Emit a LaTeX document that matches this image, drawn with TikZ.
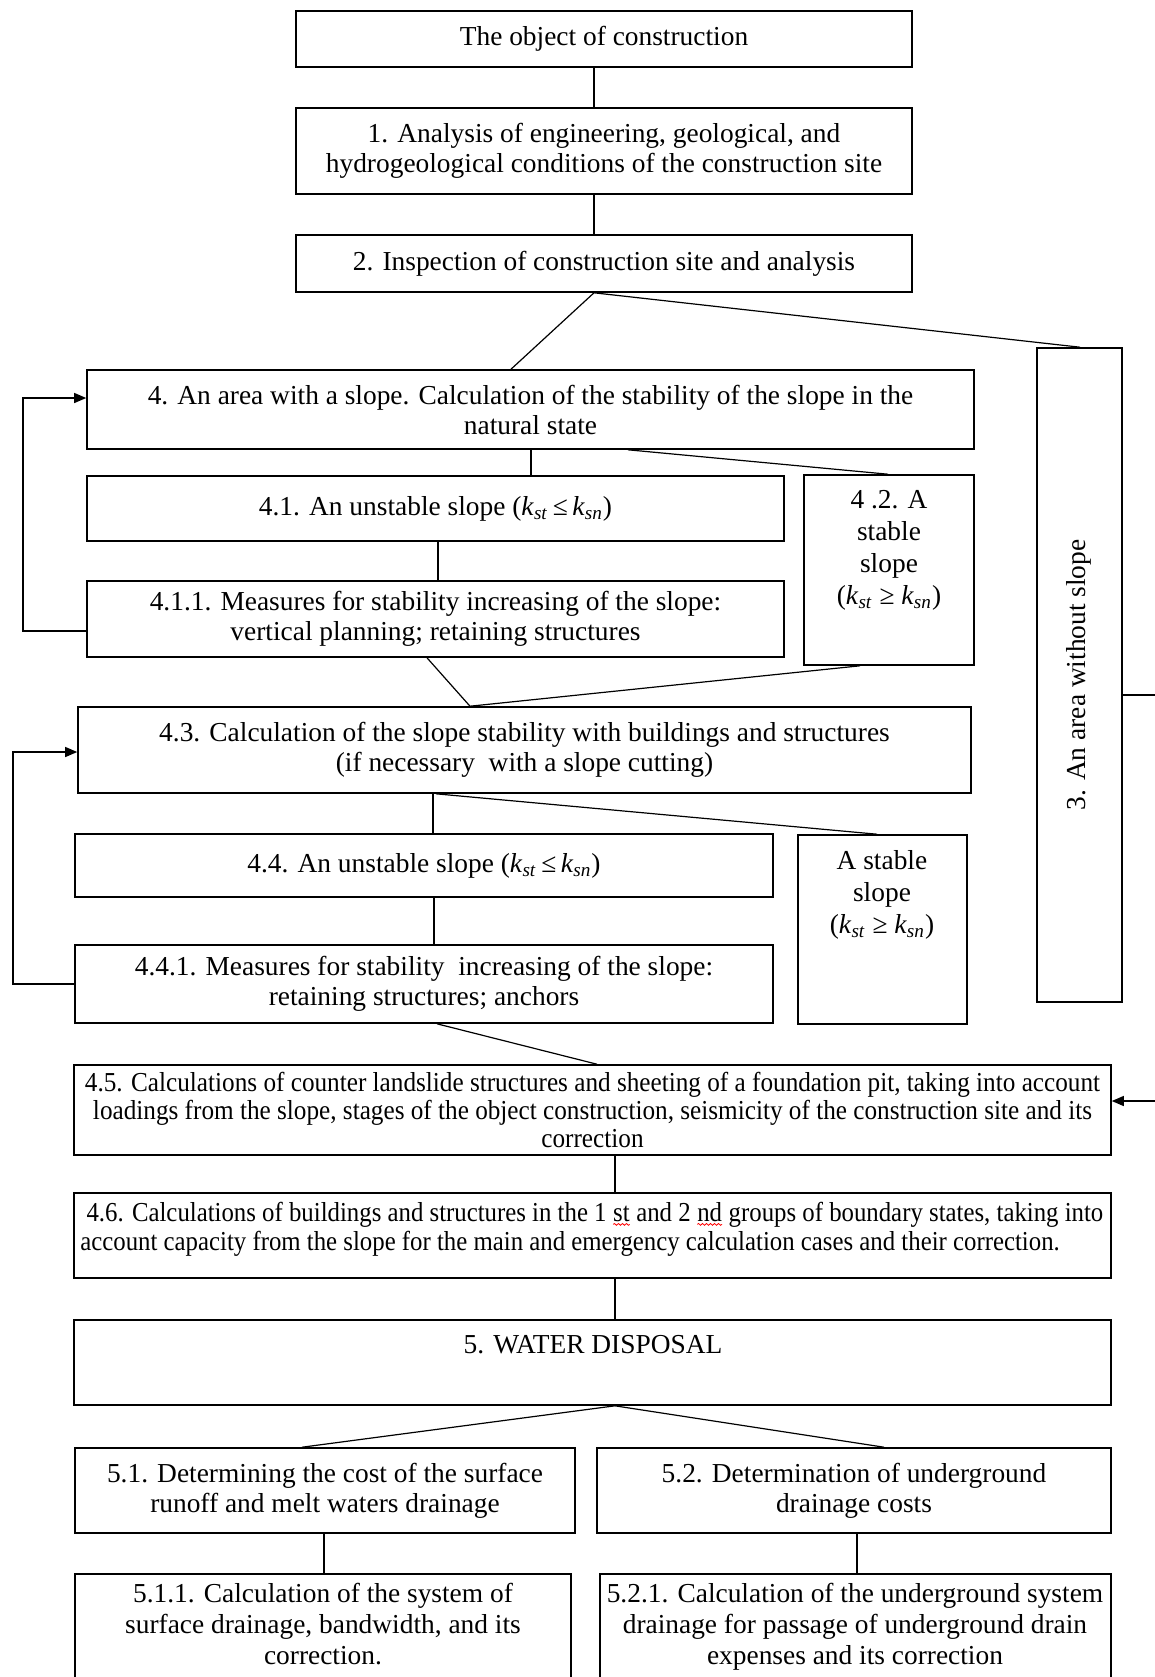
\documentclass[tikz,border=0pt]{standalone}
\usepackage{fontspec}
\setmainfont{Liberation Serif}
\newfontfamily\condfont{Liberation Serif}[FakeStretch=0.92]
\newfontfamily\condfontb{Liberation Serif}[FakeStretch=0.905]
\usetikzlibrary{arrows.meta,decorations.pathmorphing,calc}
\newcommand{\kst}{\textit{k}\textsubscript{\textit{st}}}
\newcommand{\ksn}{\textit{k}\textsubscript{\textit{sn}}}
\newcommand{\redwave}[1]{\tikz[baseline=(w.base)]{\node[inner sep=0pt,outer sep=0pt](w){#1};\draw[red,line width=0.4pt,decorate,decoration={snake,amplitude=0.45pt,segment length=2pt}]([yshift=-1.6pt]w.base west)--([yshift=-1.6pt]w.base east);}}
\begin{document}
\begin{tikzpicture}[x=0.5pt,y=-0.5pt,
  box/.style={draw, line width=0.8pt, inner sep=2pt, align=center, font=\fontsize{13.7}{15}\selectfont},
  rect/.style n args={4}{minimum width={(#3-#1)*0.5pt}, minimum height={(#4-#2)*0.5pt}, at={({(#1+#3)/2},{(#2+#4)/2})}},
  txt/.style={inner sep=0pt, align=center, font=\fontsize{13.7}{15}\selectfont},
  con/.style={line width=0.6pt},
  arr/.style={con, -{Triangle[length=6pt,width=5pt]}}
]
\useasboundingbox[fill=white] (0,0) rectangle (1155,1677);

% boxes
\node[box, rect={296}{11}{912}{67}] (b0) {The object of construction};
\node[box, rect={296}{108}{912}{194}] (b1) {1. Analysis of engineering, geological, and\\hydrogeological conditions of the construction site};
\node[box, rect={296}{235}{912}{292}] (b2) {2. Inspection of construction site and analysis};
\node[box, rect={1037}{348}{1122}{1002}] (b3) {};
\node[txt, rotate=90] (t3) at (1079,675) {3. An area without slope};
\node[box, rect={87}{370}{974}{449}] (b4) {4. An area with a slope. Calculation of the stability of the slope in the\\natural state};
\node[box, rect={87}{476}{784}{541}] (b41) {4.1. An unstable slope (\kst\,≤\,\ksn)};
\node[box, rect={87}{581}{784}{657}] (b411) {4.1.1. Measures for stability increasing of the slope:\\vertical planning; retaining structures};
\node[box, rect={804}{475}{974}{665}] (b42) {};
\node[txt, anchor=north, font=\fontsize{13.7}{16}\selectfont] (t42) at (889,490) {4 .2. A\\stable\\slope\\(\kst\ ≥ \ksn)};
\node[box, rect={78}{707}{971}{793}] (b43) {4.3. Calculation of the slope stability with buildings and structures\\(if necessary\ \ with a slope cutting)};
\node[box, rect={75}{834}{773}{897}] (b44) {4.4. An unstable slope (\kst\,≤\,\ksn)};
\node[box, rect={75}{945}{773}{1023}] (b441) {4.4.1. Measures for stability\ \ increasing of the slope:\\retaining structures; anchors};
\node[box, rect={798}{835}{967}{1024}] (bst) {};
\node[txt, anchor=north, font=\fontsize{13.7}{16}\selectfont] (tst) at (882,850) {A stable\\slope\\(\kst\ ≥ \ksn)};
\node[box, rect={74}{1065}{1111}{1155}, font=\condfont\fontsize{13.7}{14}\selectfont] (b45) {4.5. Calculations of counter landslide structures and sheeting of a foundation pit, taking into account\\loadings from the slope, stages of the object construction, seismicity of the construction site and its\\correction};
\node[box, rect={74}{1193}{1111}{1278}] (b46) {};
\node[txt, anchor=west, align=left, font=\condfontb\fontsize{13.7}{14.5}\selectfont] (t46) at (80,1229) {\ 4.6. Calculations of buildings and structures in the 1 \redwave{st} and 2 \redwave{nd} groups of boundary states, taking into\\account capacity from the slope for the main and emergency calculation cases and their correction.};
\node[box, rect={74}{1320}{1111}{1405}] (b5) {};
\node[txt] (t5) at (593,1345) {5. WATER DISPOSAL};
\node[box, rect={75}{1448}{575}{1533}] (b51) {5.1. Determining the cost of the surface\\runoff and melt waters drainage};
\node[box, rect={597}{1448}{1111}{1533}] (b52) {5.2. Determination of underground\\drainage costs};
\node[box, rect={75}{1574}{571}{1720}] (b511) {};
\node[txt, anchor=north, font=\fontsize{13.7}{15.5}\selectfont] (t511) at (323,1583) {5.1.1. Calculation of the system of\\surface drainage, bandwidth, and its\\correction.};
\node[box, rect={600}{1574}{1111}{1720}] (b521) {};
\node[txt, anchor=north, font=\fontsize{13.7}{15.5}\selectfont] (t521) at (855,1583) {5.2.1. Calculation of the underground system\\drainage for passage of underground drain\\expenses and its correction};

% connectors
\draw[con] (b0.south -| 594,0) -- (b1.north -| 594,0);
\draw[con] (b1.south -| 594,0) -- (b2.north -| 594,0);
\draw[con] (b2.south -| 594,0) -- (b4.north -| 511,0);
\draw[con] (b2.south -| 594,0) -- (b3.north -| 1080,0);
\draw[arr] (b3.east |- 0,695) -- (1162,695) -- (1162,1101) -- (b45.east |- 0,1101);
\draw[con] (b4.south -| 531,0) -- (b41.north -| 531,0);
\draw[con] (b4.south -| 628,0) -- (b42.north -| 888,0);
\draw[con] (b41.south -| 438,0) -- (b411.north -| 438,0);
\draw[arr] (b411.west |- 0,631) -- (23,631) -- (23,398) -- (b4.west |- 0,398);
\draw[con] (b411.south -| 427,0) -- (b43.north -| 470,0);
\draw[con] (b42.south -| 860,0) -- (b43.north -| 470,0);
\draw[con] (b43.south -| 433,0) -- (b44.north -| 433,0);
\draw[con] (b43.south -| 436,0) -- (bst.north -| 877,0);
\draw[con] (b44.south -| 434,0) -- (b441.north -| 434,0);
\draw[arr] (b441.west |- 0,984) -- (13,984) -- (13,752) -- (b43.west |- 0,752);
\draw[con] (b441.south -| 437,0) -- (b45.north -| 597,0);
\draw[con] (b45.south -| 615,0) -- (b46.north -| 615,0);
\draw[con] (b46.south -| 615,0) -- (b5.north -| 615,0);
\draw[con] (b5.south -| 615,0) -- (b51.north -| 302,0);
\draw[con] (b5.south -| 615,0) -- (b52.north -| 884,0);
\draw[con] (b51.south -| 324,0) -- (b511.north -| 324,0);
\draw[con] (b52.south -| 857,0) -- (b521.north -| 857,0);
\end{tikzpicture}
\end{document}
